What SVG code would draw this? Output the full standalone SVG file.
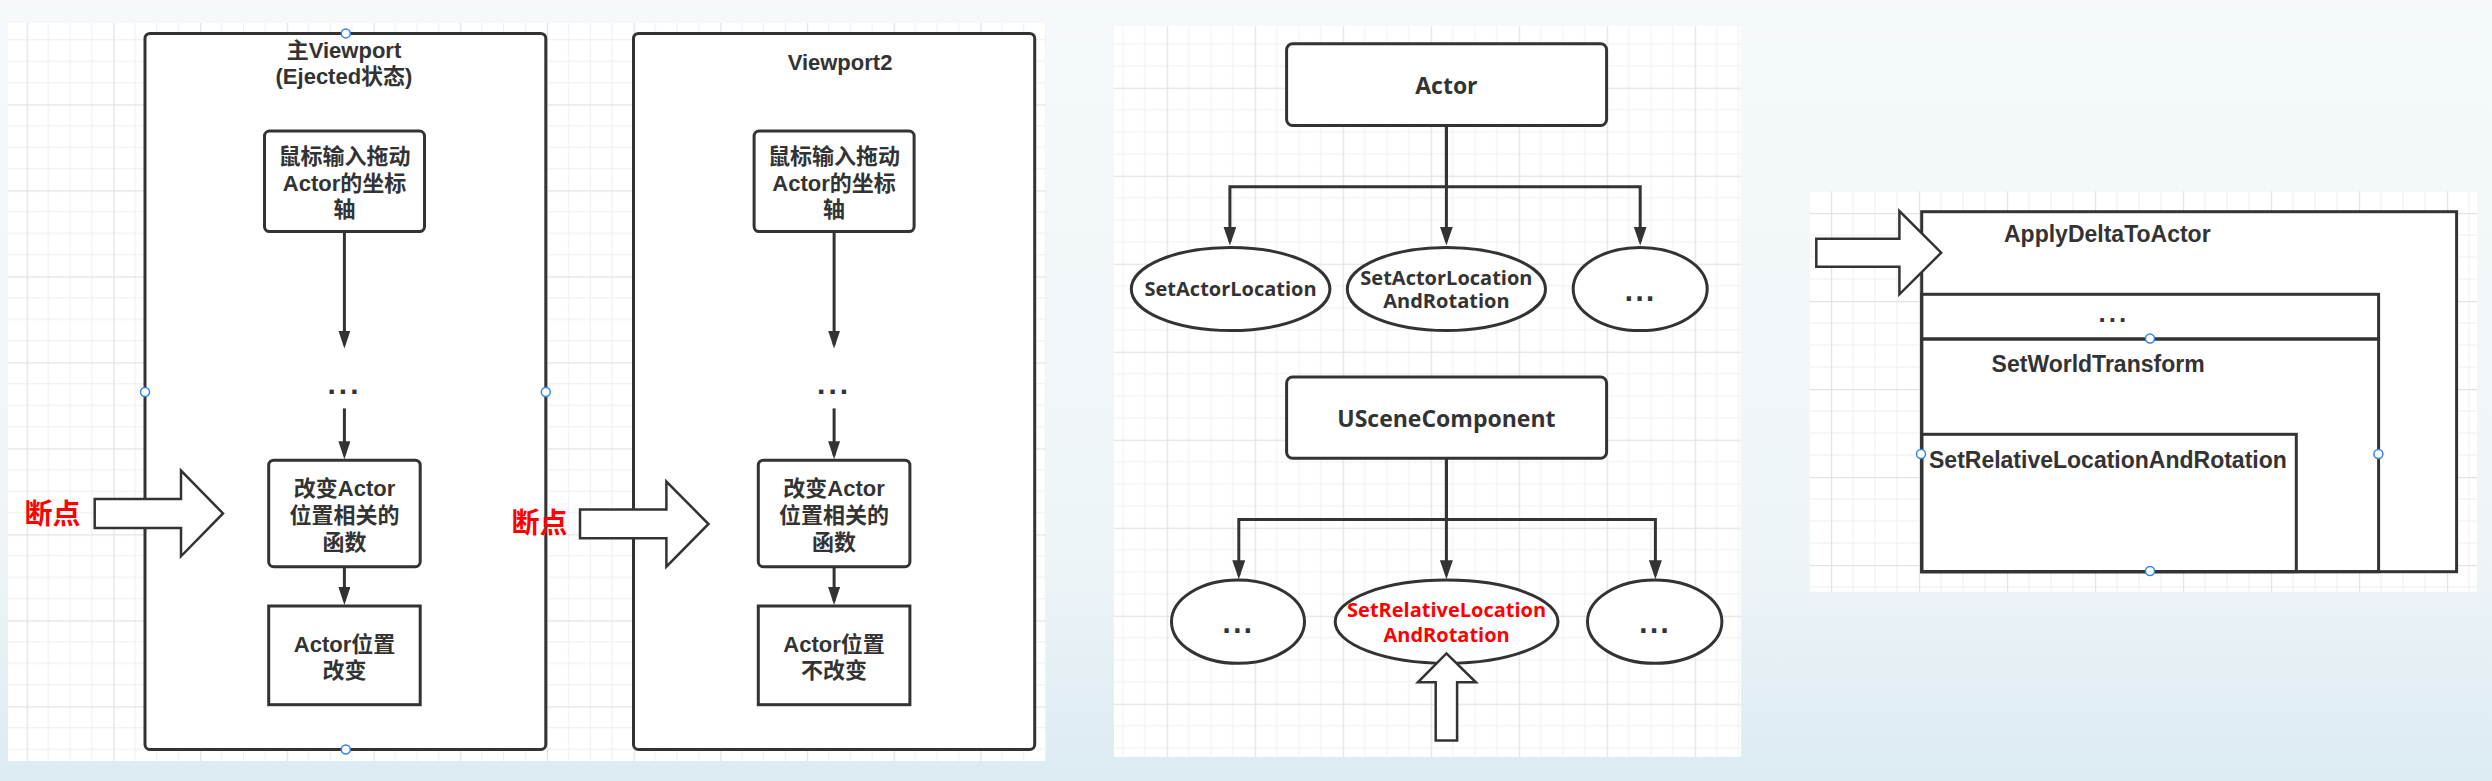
<svg xmlns="http://www.w3.org/2000/svg" width="2492" height="781" viewBox="0 0 2492 781">
<defs>
<linearGradient id="bg" x1="0" y1="0" x2="0" y2="1">
<stop offset="0" stop-color="#f5f9fb"/>
<stop offset="0.7" stop-color="#eef5f8"/>
<stop offset="1" stop-color="#dcebf2"/>
</linearGradient>
<pattern id="gridL" patternUnits="userSpaceOnUse" x="26.7" y="18.3" width="86.7" height="86">
<path d="M21.7,0V86M43.3,0V86M65,0V86M0,21.5H86.7M0,43H86.7M0,64.5H86.7" stroke="#eeeeee" stroke-width="1" fill="none"/>
<path d="M0.5,0V86M0,0.5H86.7" stroke="#e3e3e3" stroke-width="1.5" fill="none"/>
</pattern>
<pattern id="gridM" patternUnits="userSpaceOnUse" x="1166.7" y="87.7" width="88" height="88">
<path d="M22,0V88M44,0V88M66,0V88M0,22H88M0,44H88M0,66H88" stroke="#eeeeee" stroke-width="1" fill="none"/>
<path d="M0.5,0V88M0,0.5H88" stroke="#e3e3e3" stroke-width="1.5" fill="none"/>
</pattern>
<pattern id="gridR" patternUnits="userSpaceOnUse" x="1831" y="213" width="88" height="88">
<path d="M22,0V88M44,0V88M66,0V88M0,22H88M0,44H88M0,66H88" stroke="#eeeeee" stroke-width="1" fill="none"/>
<path d="M0.5,0V88M0,0.5H88" stroke="#e3e3e3" stroke-width="1.5" fill="none"/>
</pattern>
<marker id="ah" viewBox="0 0 19 13" markerWidth="19" markerHeight="13" refX="15" refY="6.5" orient="auto" markerUnits="userSpaceOnUse">
<path d="M0,0L19,6.5L0,13z" fill="#333333"/>
</marker>
<marker id="ahs" viewBox="0 0 18 12" markerWidth="18" markerHeight="12" refX="14" refY="6" orient="auto" markerUnits="userSpaceOnUse">
<path d="M0,0L18,6L0,12z" fill="#333333"/>
</marker>
</defs>
<style>
.shape{fill:#ffffff;stroke:#333333;stroke-width:3}
.open{fill:none;stroke:#333333;stroke-width:3}
.filled{fill:#ffffff;stroke:#333333;stroke-width:3}
.conn{fill:none;stroke:#333333;stroke-width:3}
.hollow{fill:#ffffff;stroke:#333333;stroke-width:2.5;stroke-linejoin:miter}
.handle{fill:#ffffff;stroke:#2f86e8;stroke-width:1.5}
.tL{font-family:"Liberation Sans","Noto Sans CJK SC",sans-serif;font-weight:bold;font-size:22px;fill:#333333;text-anchor:middle;dominant-baseline:central}
.tR{font-family:"Liberation Sans","Noto Sans CJK SC",sans-serif;font-weight:bold;font-size:23px;fill:#333333;dominant-baseline:central}
.tM{font-family:"Open Sans",sans-serif;font-weight:bold;font-size:20px;fill:#333333;text-anchor:middle;dominant-baseline:central}
.tMbig{font-family:"Open Sans",sans-serif;font-weight:bold;font-size:23px;fill:#333333;text-anchor:middle;dominant-baseline:central}
.red{font-family:"Liberation Sans","Noto Sans CJK SC",sans-serif;font-weight:bold;font-size:28px;fill:#ff0000;text-anchor:middle;dominant-baseline:central}
.dotsL{font-family:"Liberation Sans",sans-serif;font-weight:bold;font-size:30px;fill:#333333;text-anchor:middle;letter-spacing:3px}
.dotsM{font-family:"DejaVu Sans",sans-serif;font-weight:bold;font-size:24px;fill:#333333;text-anchor:middle;letter-spacing:1.5px}
</style>

<rect x="0" y="0" width="2492" height="781" fill="url(#bg)"/>

<!-- panels -->
<g id="panel-left">
<rect x="8" y="23" width="1038" height="738" fill="#ffffff"/>
<rect x="8" y="23" width="1038" height="738" fill="url(#gridL)"/>
</g>
<g id="panel-middle">
<rect x="1114" y="26" width="627" height="731" fill="#ffffff"/>
<rect x="1114" y="26" width="627" height="731" fill="url(#gridM)"/>
</g>
<g id="panel-right">
<rect x="1809.5" y="191" width="667.5" height="400.7" fill="#ffffff"/>
<rect x="1809.5" y="191" width="667.5" height="400.7" fill="url(#gridR)"/>
</g>

<!-- left diagram frames -->
<g id="frame-main">
<rect class="shape" x="145" y="33.4" width="400.8" height="716" rx="5"/>
<text class="tL"><tspan x="344" y="50">主Viewport</tspan><tspan x="344" y="76.4">(Ejected状态)</tspan></text>
</g>
<g id="frame-viewport2">
<rect class="shape" x="633.5" y="33.4" width="401.2" height="716" rx="5"/>
<text class="tL" x="840" y="62.3">Viewport2</text>
</g>

<g id="main-drag">
<rect class="shape" x="264.5" y="131" width="160" height="100.6" rx="5"/>
<text class="tL"><tspan x="344.5" y="156">鼠标输入拖动</tspan><tspan x="344.5" y="182.5">Actor的坐标</tspan><tspan x="344.5" y="209">轴</tspan></text>
</g>
<g id="main-dots"><text class="dotsL" x="344.5" y="394">...</text></g>
<g id="main-func">
<rect class="shape" x="268.7" y="460.2" width="151.5" height="106.5" rx="5"/>
<text class="tL"><tspan x="344.5" y="488">改变Actor</tspan><tspan x="344.5" y="515">位置相关的</tspan><tspan x="344.5" y="541.5">函数</tspan></text>
</g>
<g id="main-result">
<rect class="shape" x="268.7" y="606" width="151.5" height="98.7"/>
<text class="tL"><tspan x="344.5" y="643.5">Actor位置</tspan><tspan x="344.5" y="670">改变</tspan></text>
</g>

<g id="vp2-drag">
<rect class="shape" x="754.1" y="131" width="160" height="100.6" rx="5"/>
<text class="tL"><tspan x="834.1" y="156">鼠标输入拖动</tspan><tspan x="834.1" y="182.5">Actor的坐标</tspan><tspan x="834.1" y="209">轴</tspan></text>
</g>
<g id="vp2-dots"><text class="dotsL" x="834.1" y="394">...</text></g>
<g id="vp2-func">
<rect class="shape" x="758.3" y="460.2" width="151.6" height="106.5" rx="5"/>
<text class="tL"><tspan x="834.1" y="488">改变Actor</tspan><tspan x="834.1" y="515">位置相关的</tspan><tspan x="834.1" y="541.5">函数</tspan></text>
</g>
<g id="vp2-result">
<rect class="shape" x="758.3" y="606" width="151.6" height="98.7"/>
<text class="tL"><tspan x="834.1" y="643.5">Actor位置</tspan><tspan x="834.1" y="670">不改变</tspan></text>
</g>

<!-- breakpoint arrows -->
<g id="breakpoint-1">
<polygon class="hollow" points="94.7,499 181,499 181,470.6 223,513.4 181,556.3 181,528 94.7,528"/>
<text class="red" x="52.6" y="514.4">断点</text>
</g>
<g id="breakpoint-2">
<polygon class="hollow" points="580,509.5 666.4,509.5 666.4,481.6 708.5,524 666.4,566.7 666.4,538.3 580,538.3"/>
<text class="red" x="539.5" y="523">断点</text>
</g>

<!-- middle diagram -->
<g id="actor">
<rect class="shape" x="1286.6" y="43.8" width="320" height="81.7" rx="6"/>
<text class="tMbig" x="1446.4" y="84.7">Actor</text>
</g>
<g id="set-actor-location">
<ellipse class="shape" cx="1230.6" cy="289" rx="99.3" ry="41.6"/>
<text class="tM" x="1230.6" y="288.8">SetActorLocation</text>
</g>
<g id="set-actor-location-rotation">
<ellipse class="shape" cx="1446.4" cy="289" rx="99.1" ry="41.6"/>
<text class="tM"><tspan x="1446.4" y="277">SetActorLocation</tspan><tspan x="1446.4" y="300.4">AndRotation</tspan></text>
</g>
<g id="actor-more">
<ellipse class="shape" cx="1640.2" cy="289" rx="67" ry="41.6"/>
<text class="dotsM" x="1640.2" y="301">...</text>
</g>
<g id="uscene">
<rect class="shape" x="1286.6" y="377" width="320" height="81.2" rx="6"/>
<text class="tMbig" x="1446.4" y="418.3">USceneComponent</text>
</g>
<g id="scene-more-1">
<ellipse class="shape" cx="1238" cy="621.7" rx="66.5" ry="41.6"/>
<text class="dotsM" x="1238" y="633">...</text>
</g>
<g id="set-relative-location-rotation">
<ellipse class="shape" cx="1446.6" cy="621.7" rx="111.4" ry="41.6"/>
<text class="tM" style="fill:#ff0000"><tspan x="1446.6" y="609">SetRelativeLocation</tspan><tspan x="1446.6" y="634">AndRotation</tspan></text>
</g>
<g id="scene-more-2">
<ellipse class="shape" cx="1654.7" cy="621.7" rx="67.2" ry="41.6"/>
<text class="dotsM" x="1654.7" y="633">...</text>
</g>
<g id="up-arrow">
<polygon class="hollow" points="1446.4,653.4 1475.9,682.3 1457.1,682.3 1457.1,740.5 1435.7,740.5 1435.7,682.3 1417.9,682.3"/>
</g>

<!-- right diagram -->
<g id="apply-delta">
<rect class="filled" x="1921.7" y="211.7" width="534.9" height="360"/>
<text class="tR" x="2004" y="233.5">ApplyDeltaToActor</text>
</g>
<g id="inner-dots">
<rect class="open" x="1921.7" y="294.3" width="456.9" height="44.7"/>
<text class="dotsL" x="2113.8" y="322" style="font-size:26px;letter-spacing:3px">...</text>
</g>
<g id="set-world-transform">
<rect class="open" x="1921.7" y="339" width="456.9" height="232.7"/>
<text class="tR" x="1991.6" y="363.5">SetWorldTransform</text>
</g>
<g id="set-relative-inner">
<rect class="open" x="1921.7" y="434.3" width="374.6" height="137.4"/>
<text class="tR" x="1929" y="460">SetRelativeLocationAndRotation</text>
</g>
<g id="apply-arrow">
<polygon class="hollow" points="1816.3,238.7 1899.4,238.7 1899.4,211 1941.2,252.7 1899.4,294.3 1899.4,266.7 1816.3,266.7"/>
</g>

<!-- connectors -->
<g id="connectors">
<path class="conn" d="M344.4,231.6V344.6" marker-end="url(#ahs)"/>
<path class="conn" d="M344.4,408.4V455.2" marker-end="url(#ahs)"/>
<path class="conn" d="M344.4,566.7V601" marker-end="url(#ahs)"/>
<path class="conn" d="M834.1,231.6V344.6" marker-end="url(#ahs)"/>
<path class="conn" d="M834.1,408.4V455.2" marker-end="url(#ahs)"/>
<path class="conn" d="M834.1,566.7V601" marker-end="url(#ahs)"/>
<path class="conn" d="M1446.4,125.5V186.8H1229.9V241.5" marker-end="url(#ah)"/>
<path class="conn" d="M1446.4,125.5V241.5" marker-end="url(#ah)"/>
<path class="conn" d="M1446.4,186.8H1640.2V241.5" marker-end="url(#ah)"/>
<path class="conn" d="M1446.4,458.2V519.4H1238.8V575.2" marker-end="url(#ah)"/>
<path class="conn" d="M1446.4,458.2V575.2" marker-end="url(#ah)"/>
<path class="conn" d="M1446.4,519.4H1655.4V575.2" marker-end="url(#ah)"/>
</g>

<!-- selection handles -->
<g id="handles">
<circle class="handle" cx="345.8" cy="33.4" r="4.5"/>
<circle class="handle" cx="145" cy="392" r="4.5"/>
<circle class="handle" cx="545.8" cy="392" r="4.5"/>
<circle class="handle" cx="345.8" cy="749.5" r="4.5"/>
<circle class="handle" cx="2150" cy="338.5" r="4.5"/>
<circle class="handle" cx="1921" cy="454" r="4.5"/>
<circle class="handle" cx="2378.4" cy="454" r="4.5"/>
<circle class="handle" cx="2150" cy="571" r="4.5"/>
</g>
</svg>
